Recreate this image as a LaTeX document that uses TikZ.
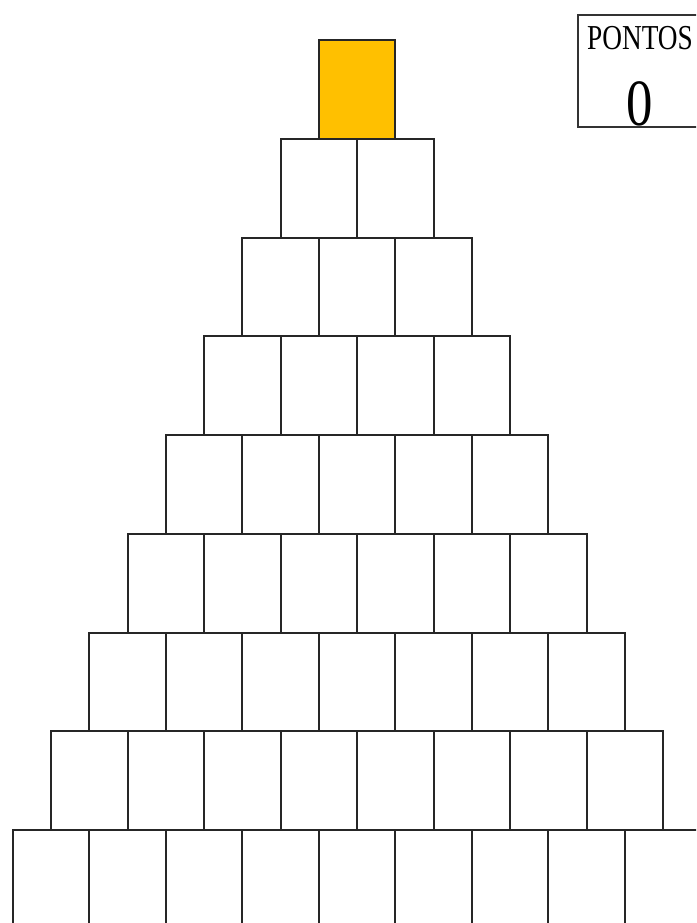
\documentclass[tikz,border=0pt]{standalone}
\usepackage{fontspec}
\setmainfont{Liberation Serif}
\definecolor{gold}{HTML}{FFC000}
\tikzset{
  cell/.style={draw=black!85, line width=2pt, rectangle, minimum width=76.5pt, minimum height=98.75pt, inner sep=0pt, outer sep=0pt, anchor=north west, fill=white},
  topcell/.style={cell, fill=gold},
  scorebox/.style={draw=black!80, line width=2pt, rectangle, minimum width=140pt, minimum height=112pt, inner sep=0pt, outer sep=0pt, anchor=north west},
}
\begin{document}
\begin{tikzpicture}[x=1pt,y=-1pt]
\useasboundingbox (0,0) rectangle (696,923);
\clip (0,0) rectangle (696,923);
\fill[white] (0,0) rectangle (696,923);
\foreach \r in {2,...,9}{
  \foreach \k in {1,...,\r}{
    \node[cell] (c-\r-\k) at ({357-\r*38.25+(\k-1)*76.5},{40+(\r-1)*98.75}) {};
  }
}
\node[topcell] (c-1-1) at (318.75,40) {};
\node[scorebox] (score) at (578,15) {};
\node[anchor=base west, inner sep=0pt, xscale=0.78, font=\fontsize{35}{35}\selectfont] (lbl) at (587,50) {PONTOS};
\node[anchor=base, inner sep=0pt, xscale=0.8, font=\fontsize{66}{66}\selectfont] (val) at (640,125) {0};
\end{tikzpicture}
\end{document}
